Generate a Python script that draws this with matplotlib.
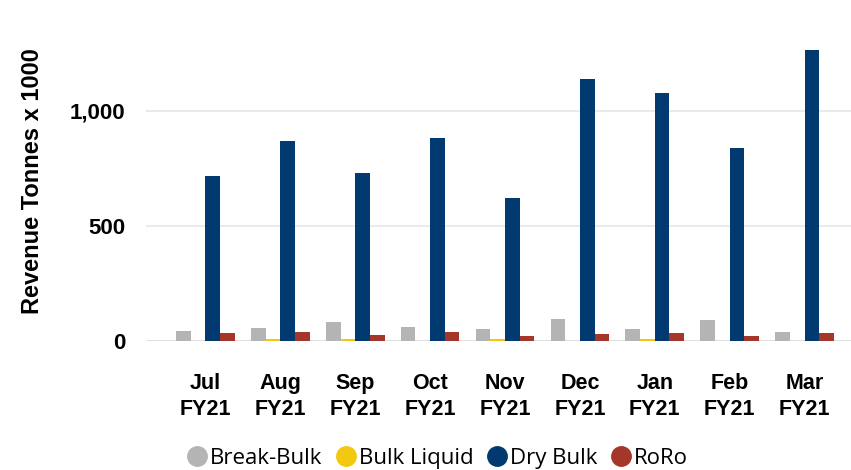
import matplotlib.pyplot as plt
import numpy as np
from matplotlib.lines import Line2D

# Данные (тыс. тонн)
months = ['Jul\nFY21', 'Aug\nFY21', 'Sep\nFY21', 'Oct\nFY21', 'Nov\nFY21',
          'Dec\nFY21', 'Jan\nFY21', 'Feb\nFY21', 'Mar\nFY21']
break_bulk  = [43, 55, 84, 61, 53, 96, 53, 93, 38]
bulk_liquid = [0, 7, 7, 0, 7, 0, 7, 0, 0]
dry_bulk    = [717, 870, 730, 883, 620, 1140, 1078, 839, 1265]
roro        = [34, 38, 25, 38, 23, 29, 34, 20, 34]

series = ['Break-Bulk', 'Bulk Liquid', 'Dry Bulk', 'RoRo']
colors = ['#B4B4B4', '#F2C811', '#003A70', '#A5372A']
values = [break_bulk, bulk_liquid, dry_bulk, roro]

fig = plt.figure(figsize=(8.51, 4.70), dpi=100)
ax = fig.add_axes([146 / 851, 1 - 341 / 470, 705 / 851, 309 / 470])

x = np.arange(len(months))
w = 0.196
for i, (name, vals, c) in enumerate(zip(series, values, colors)):
    ax.bar(x + (i - 1.5) * w, vals, width=w, color=c, label=name, zorder=3)

ax.set_xlim(-0.794, 8.62)
ax.set_ylim(0, 1343)
ax.set_yticks([0, 500, 1000])
ax.set_yticklabels(['0', '500', '1,000'], fontsize=16, fontweight='bold',
                   family='Liberation Sans')
ax.set_xticks(x)
ax.set_xticklabels(months, fontsize=15.5, fontweight='bold', family='Liberation Sans',
                   linespacing=1.3)
ax.tick_params(axis='both', length=0)
ax.tick_params(axis='y', pad=15)
ax.tick_params(axis='x', pad=23)
ax.grid(axis='y', color='#E6E6E6', linewidth=1.2, zorder=0)
for s in ax.spines.values():
    s.set_visible(False)
ax.axhline(0, color='#E0E0E0', linewidth=1.5, zorder=2)

ax.set_ylabel('Revenue Tonnes x 1000', fontsize=17, fontweight='bold',
              family='Liberation Sans')
ax.yaxis.set_label_coords(-0.145, 0.518)

handles = [Line2D([], [], marker='o', linestyle='', markersize=14, color=c)
           for c in colors]
fig.legend(handles, series, loc='center', bbox_to_anchor=(0.514, 0.025), ncol=4,
           frameon=False, handlelength=0.9, handletextpad=0.15, columnspacing=0.6,
           prop={'family': 'Open Sans', 'size': 16})

plt.savefig('out.png', dpi=100)
